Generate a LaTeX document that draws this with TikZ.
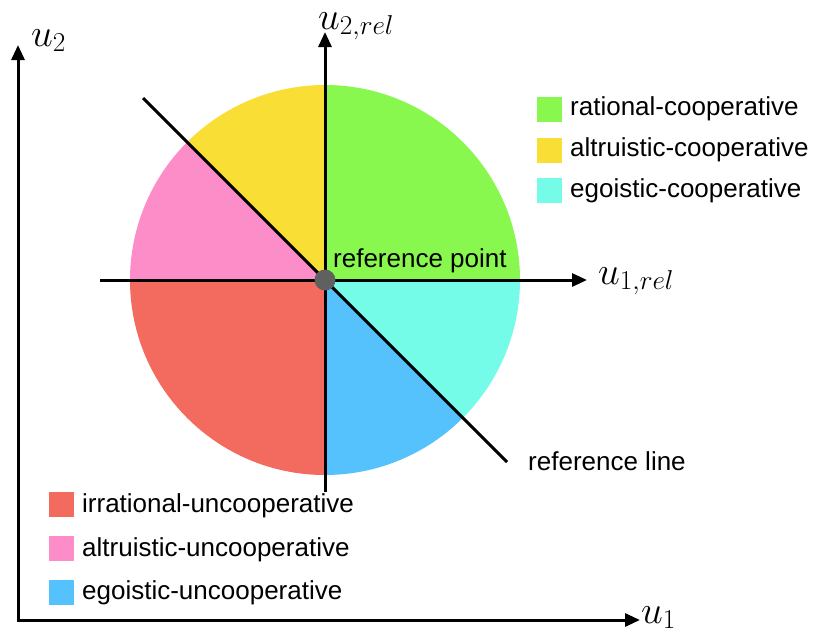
\RequirePackage{fix-cm}
\documentclass[tikz,border=0pt]{standalone}
\usepackage{fontspec}
\setmainfont{Liberation Sans}
\usetikzlibrary{arrows.meta}
\definecolor{cgreen}{HTML}{88F74E}
\definecolor{cyellow}{HTML}{F9DE35}
\definecolor{cpink}{HTML}{FD8DC8}
\definecolor{cred}{HTML}{F26B5E}
\definecolor{cblue}{HTML}{55C1FD}
\definecolor{ccyan}{HTML}{75FCE9}
\definecolor{cdot}{HTML}{606060}
\tikzset{
  axis/.style={line width=3pt, -{Triangle[length=15pt,width=13pt]}},
  refl/.style={line width=3pt},
  lbl/.style={font=\fontsize{26}{30}\selectfont, anchor=base west, inner sep=0pt},
  mlbl/.style={font=\fontsize{39}{44}\selectfont, anchor=base west, inner sep=0pt},
  swatch/.style={minimum size=25pt, inner sep=0pt, draw=none}
}
\begin{document}
\begin{tikzpicture}[x=1pt,y=-1pt]
\useasboundingbox (0,0) rectangle (815,633);
% sectors (y axis points down, so angles are negated)
\coordinate (c) at (325,280);
\fill[cgreen] (c) -- ++(0:195) arc[start angle=0,end angle=-90,radius=195] -- cycle;
\fill[cyellow] (c) -- ++(-90:195) arc[start angle=-90,end angle=-135,radius=195] -- cycle;
\fill[cpink] (c) -- ++(-135:195) arc[start angle=-135,end angle=-180,radius=195] -- cycle;
\fill[cred] (c) -- ++(-180:195) arc[start angle=-180,end angle=-270,radius=195] -- cycle;
\fill[cblue] (c) -- ++(90:195) arc[start angle=90,end angle=45,radius=195] -- cycle;
\fill[ccyan] (c) -- ++(45:195) arc[start angle=45,end angle=0,radius=195] -- cycle;
% main axes
\coordinate (o) at (18,620);
\coordinate (u1tip) at (640,620);
\coordinate (u2tip) at (18,45);
\draw[axis] ([xshift=-1.5pt]o) -- (u1tip);
\draw[axis] (o) -- (u2tip);
% relative axes
\coordinate (xrs) at (100,280);
\coordinate (xre) at (587,280);
\coordinate (yrs) at (325,492);
\coordinate (yre) at (325,32);
\draw[axis] (xrs) -- (xre);
\draw[axis] (yrs) -- (yre);
% reference line
\coordinate (rls) at (143,98);
\coordinate (rle) at (507,462);
\draw[refl] (rls) -- (rle);
% reference point
\node[circle, fill=cdot, minimum size=21pt, inner sep=0pt] (rp) at (c) {};
\node[lbl] (rptxt) at (333,267) {reference point};
\node[lbl] (rltxt) at (528,470) {reference line};
% math labels
\node[mlbl] (lu1) at (641,623) {$u_1$};
\node[mlbl] (lu2) at (31,46) {$u_2$};
\node[mlbl] (lu1r) at (598,284) {$u_{1,rel}$};
\node[mlbl] (lu2r) at (318,29) {$u_{2,rel}$};
% legend top right
\node[swatch, fill=cgreen] (s1) at (549.5,109.5) {};
\node[lbl] (t1) at (570,115) {rational-cooperative};
\node[swatch, fill=cyellow] (s2) at (549.5,150) {};
\node[lbl] (t2) at (570,156) {altruistic-cooperative};
\node[swatch, fill=ccyan] (s3) at (549.5,190.5) {};
\node[lbl] (t3) at (570,197) {egoistic-cooperative};
% legend bottom left
\node[swatch, fill=cred] (s4) at (61.5,504.5) {};
\node[lbl] (t4) at (82,512) {irrational-uncooperative};
\node[swatch, fill=cpink] (s5) at (61.5,548.5) {};
\node[lbl] (t5) at (82,556) {altruistic-uncooperative};
\node[swatch, fill=cblue] (s6) at (61.5,592.5) {};
\node[lbl] (t6) at (82,599) {egoistic-uncooperative};
\end{tikzpicture}
\end{document}
